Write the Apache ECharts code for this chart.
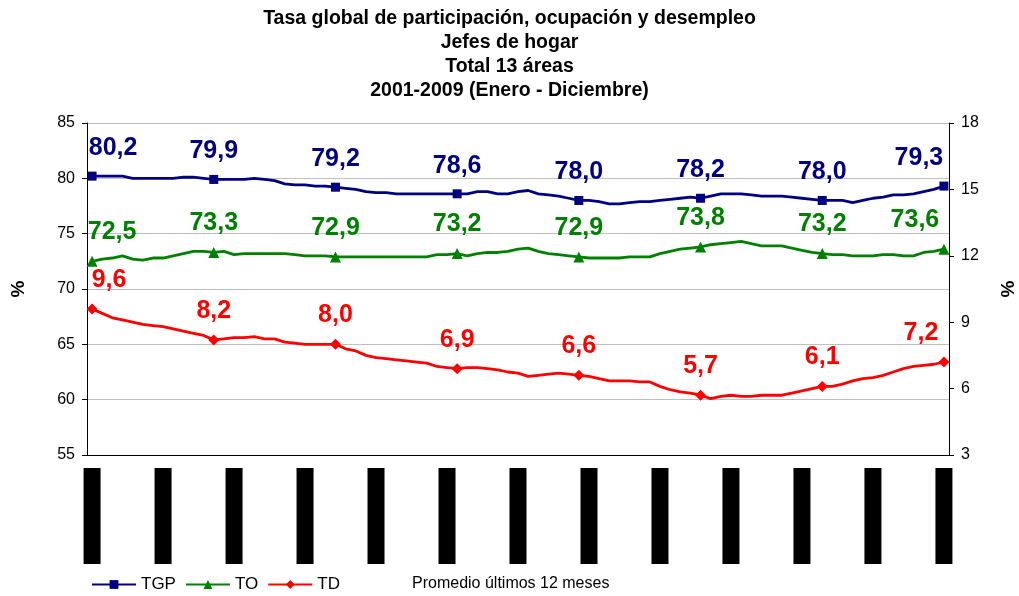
<!DOCTYPE html>
<html lang="es">
<head>
<meta charset="UTF-8">
<title>Jefes de hogar - Total 13 áreas</title>
<script src="https://cdn.jsdelivr.net/npm/echarts@6.0.0/dist/echarts.min.js"></script>
<style>
  html, body { margin: 0; padding: 0; background: #fff; }
  #chart { width: 1019px; height: 596px; }
</style>
</head>
<body>
<div id="chart"></div>
<script>
// periodos de 12 meses (promedio móvil)
var categorias = [
  "Ene 02-Dic 02",
  "Feb 02-Ene 03","Mar 02-Feb 03","Abr 02-Mar 03","May 02-Abr 03","Jun 02-May 03","Jul 02-Jun 03",
  "Ago 02-Jul 03","Sep 02-Ago 03","Oct 02-Sep 03","Nov 02-Oct 03","Dic 02-Nov 03","Ene 03-Dic 03",
  "Feb 03-Ene 04","Mar 03-Feb 04","Abr 03-Mar 04","May 03-Abr 04","Jun 03-May 04","Jul 03-Jun 04",
  "Ago 03-Jul 04","Sep 03-Ago 04","Oct 03-Sep 04","Nov 03-Oct 04","Dic 03-Nov 04","Ene 04-Dic 04",
  "Feb 04-Ene 05","Mar 04-Feb 05","Abr 04-Mar 05","May 04-Abr 05","Jun 04-May 05","Jul 04-Jun 05",
  "Ago 04-Jul 05","Sep 04-Ago 05","Oct 04-Sep 05","Nov 04-Oct 05","Dic 04-Nov 05","Ene 05-Dic 05",
  "Feb 05-Ene 06","Mar 05-Feb 06","Abr 05-Mar 06","May 05-Abr 06","Jun 05-May 06","Jul 05-Jun 06",
  "Ago 05-Jul 06","Sep 05-Ago 06","Oct 05-Sep 06","Nov 05-Oct 06","Dic 05-Nov 06","Ene 06-Dic 06",
  "Feb 06-Ene 07","Mar 06-Feb 07","Abr 06-Mar 07","May 06-Abr 07","Jun 06-May 07","Jul 06-Jun 07",
  "Ago 06-Jul 07","Sep 06-Ago 07","Oct 06-Sep 07","Nov 06-Oct 07","Dic 06-Nov 07","Ene 07-Dic 07",
  "Feb 07-Ene 08","Mar 07-Feb 08","Abr 07-Mar 08","May 07-Abr 08","Jun 07-May 08","Jul 07-Jun 08",
  "Ago 07-Jul 08","Sep 07-Ago 08","Oct 07-Sep 08","Nov 07-Oct 08","Dic 07-Nov 08","Ene 08-Dic 08",
  "Feb 08-Ene 09","Mar 08-Feb 09","Abr 08-Mar 09","May 08-Abr 09","Jun 08-May 09","Jul 08-Jun 09",
  "Ago 08-Jul 09","Sep 08-Ago 09","Oct 08-Sep 09","Nov 08-Oct 09","Dic 08-Nov 09","Ene 09-Dic 09"
];

// Tasa global de participación (eje izquierdo)
var tgp = [
  80.2,80.2,80.2,80.2,80.0,80.0,80.0,80.0,80.0,80.1,80.1,80.0,
  79.9,79.9,79.9,79.9,80.0,79.9,79.8,79.5,79.4,79.4,79.3,79.3,
  79.2,79.1,79.0,78.8,78.7,78.7,78.6,78.6,78.6,78.6,78.6,78.6,
  78.6,78.6,78.8,78.8,78.6,78.6,78.8,78.9,78.6,78.5,78.4,78.2,
  78.0,78.0,77.9,77.7,77.7,77.8,77.9,77.9,78.0,78.1,78.2,78.3,
  78.2,78.4,78.6,78.6,78.6,78.5,78.4,78.4,78.4,78.3,78.2,78.1,
  78.0,78.0,78.0,77.8,78.0,78.2,78.3,78.5,78.5,78.6,78.8,79.0,
  79.3
];

// Tasa de ocupación (eje izquierdo)
var to = [
  72.5,72.7,72.8,73.0,72.7,72.6,72.8,72.8,73.0,73.2,73.4,73.4,
  73.3,73.4,73.1,73.2,73.2,73.2,73.2,73.2,73.1,73.0,73.0,73.0,
  72.9,72.9,72.9,72.9,72.9,72.9,72.9,72.9,72.9,72.9,73.1,73.1,
  73.2,73.0,73.2,73.3,73.3,73.4,73.6,73.7,73.4,73.2,73.1,73.0,
  72.9,72.8,72.8,72.8,72.8,72.9,72.9,72.9,73.2,73.4,73.6,73.7,
  73.8,74.0,74.1,74.2,74.3,74.1,73.9,73.9,73.9,73.7,73.5,73.3,
  73.2,73.1,73.1,73.0,73.0,73.0,73.1,73.1,73.0,73.0,73.3,73.4,
  73.6
];

// Tasa de desempleo (eje derecho)
var td = [
  9.6,9.4,9.2,9.1,9.0,8.9,8.85,8.8,8.7,8.6,8.5,8.4,
  8.2,8.25,8.3,8.3,8.35,8.25,8.25,8.1,8.05,8.0,8.0,8.0,
  8.0,7.8,7.7,7.5,7.4,7.35,7.3,7.25,7.2,7.15,7.0,6.95,
  6.9,6.95,6.95,6.9,6.85,6.75,6.7,6.55,6.6,6.65,6.7,6.65,
  6.6,6.55,6.45,6.35,6.35,6.35,6.3,6.3,6.1,5.95,5.85,5.8,
  5.7,5.55,5.65,5.7,5.65,5.65,5.7,5.7,5.7,5.8,5.9,6.0,
  6.1,6.1,6.2,6.35,6.45,6.5,6.6,6.75,6.9,7.0,7.05,7.1,
  7.2
];

var FONT = 'Arial, "Liberation Sans", sans-serif';

// marcador y etiqueta solo en cada diciembre
function puntos(vals, color, firstDx, lastDx) {
  return vals.map(function (v, i) {
    if (i % 12 !== 0) return { value: v, symbol: 'none' };
    var dx = i === 0 ? firstDx : (i === vals.length - 1 ? lastDx : 0);
    return {
      value: v,
      label: {
        show: true,
        position: 'top',
        distance: 11,
        offset: [dx, 0],
        color: color,
        fontSize: 25,
        fontWeight: 'bold',
        fontFamily: FONT,
        formatter: function (p) { return p.value.toFixed(1).replace('.', ','); }
      }
    };
  });
}

var chart = echarts.init(document.getElementById('chart'));
chart.setOption({
  animation: false,
  textStyle: { fontFamily: FONT },
  title: {
    text: 'Tasa global de participación, ocupación y desempleo\nJefes de hogar\nTotal 13 áreas\n2001-2009 (Enero - Diciembre)',
    left: 'center',
    top: 2,
    textStyle: { fontSize: 19.5, fontWeight: 'bold', color: '#000', lineHeight: 24, fontFamily: FONT }
  },
  legend: {
    left: 86,
    top: 571,
    itemWidth: 44,
    itemHeight: 11,
    itemGap: 9,
    textStyle: { fontSize: 17, color: '#000', fontFamily: FONT },
    data: ['TGP', 'TO', 'TD']
  },
  graphic: [{
    type: 'text',
    left: 412,
    top: 576,
    style: { text: 'Promedio últimos 12 meses', fontSize: 16, fill: '#000', fontFamily: FONT }
  }],
  grid: { left: 87, right: 70, top: 123, bottom: 141, outerBoundsMode: 'none' },
  xAxis: {
    type: 'category',
    data: categorias,
    boundaryGap: true,
    axisLine: { lineStyle: { color: '#000', width: 1 } },
    axisTick: { interval: 1, length: 5, lineStyle: { color: '#000' } },
    axisLabel: {
      interval: 6,
      rotate: 90,
      margin: 13,
      color: '#000',
      backgroundColor: '#000',
      fontSize: 11,
      lineHeight: 17,
      width: 92,
      overflow: 'truncate',
      padding: [0, 2]
    }
  },
  yAxis: [{
    type: 'value',
    min: 55, max: 85, interval: 5,
    name: '%',
    nameLocation: 'middle',
    nameRotate: 90,
    nameGap: 59,
    nameTextStyle: { fontSize: 19, fontWeight: 'bold', color: '#000' },
    axisLine: { show: true, lineStyle: { color: '#000' } },
    axisTick: { show: true, length: 5, lineStyle: { color: '#000' } },
    axisLabel: { fontSize: 16, color: '#000', margin: 12 },
    splitLine: { lineStyle: { color: '#c0c0c0', width: 1 } }
  }, {
    type: 'value',
    min: 3, max: 18, interval: 3,
    name: '%',
    nameLocation: 'middle',
    nameRotate: 90,
    nameGap: 50,
    nameTextStyle: { fontSize: 19, fontWeight: 'bold', color: '#000' },
    axisLine: { show: true, lineStyle: { color: '#000' } },
    axisTick: { show: true, length: 5, lineStyle: { color: '#000' } },
    axisLabel: { fontSize: 16, color: '#000', margin: 12 },
    splitLine: { show: false }
  }],
  series: [{
    name: 'TGP',
    type: 'line',
    yAxisIndex: 0,
    data: puntos(tgp, '#000080', 21, -25),
    color: '#000080',
    symbol: 'rect',
    symbolSize: 9,
    showAllSymbol: true,
    lineStyle: { width: 2.8, color: '#000080' },
    itemStyle: { color: '#000080' }
  }, {
    name: 'TO',
    type: 'line',
    yAxisIndex: 0,
    data: puntos(to, '#008000', 20, -29),
    color: '#008000',
    symbol: 'triangle',
    symbolSize: 11,
    showAllSymbol: true,
    lineStyle: { width: 2.8, color: '#008000' },
    itemStyle: { color: '#008000' }
  }, {
    name: 'TD',
    type: 'line',
    yAxisIndex: 1,
    data: puntos(td, '#FF0000', 17, -23),
    color: '#FF0000',
    symbol: 'diamond',
    symbolSize: 11,
    showAllSymbol: true,
    lineStyle: { width: 2.8, color: '#FF0000' },
    itemStyle: { color: '#FF0000' }
  }]
});
</script>
</body>
</html>
